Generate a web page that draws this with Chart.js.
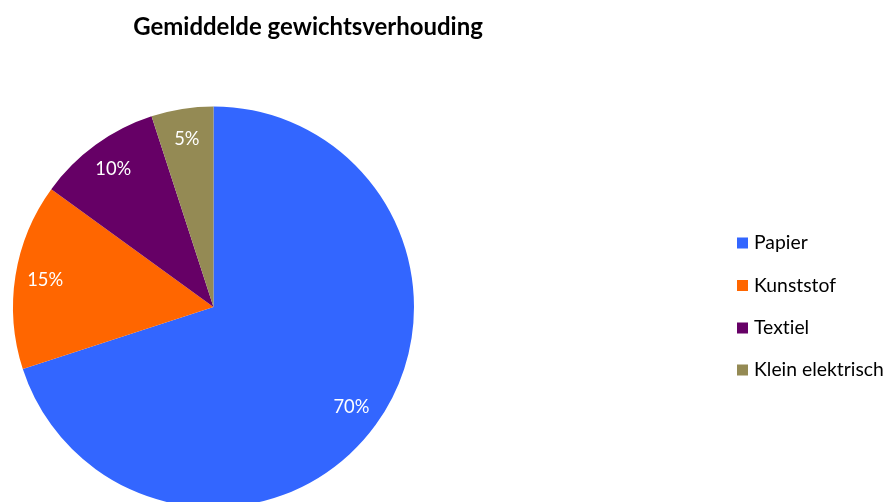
<!DOCTYPE html>
<html>
<head>
<meta charset="utf-8">
<script src="https://cdn.jsdelivr.net/npm/chart.js@4"></script>
<style>
html,body{margin:0;padding:0;background:#fff;overflow:hidden;}
#wrap{width:889px;height:502px;overflow:hidden;}
canvas{display:block;}
</style>
</head>
<body>
<div id="wrap"><canvas id="c" width="889" height="508" style="width:889px;height:508px"></canvas></div>
<script>
const chartTitle = "Gemiddelde gewichtsverhouding";
const categories = ["Papier", "Kunststof", "Textiel", "Klein elektrisch"];
const values = [70, 15, 10, 5];
const colors = ["#3366FF", "#FF6600", "#660066", "#948A54"];

const FONT = "Lato, 'Open Sans', sans-serif";

function fitFont(ctx, text, weight, target, base) {
  ctx.font = weight + " " + base + "px " + FONT;
  const w = ctx.measureText(text).width;
  return base * target / w;
}

const decorPlugin = {
  id: "decor",
  afterDatasetsDraw(chart) {
    const ctx = chart.ctx;
    const meta = chart.getDatasetMeta(0);
    const total = values.reduce((a, b) => a + b, 0);
    ctx.save();
    if ("letterSpacing" in ctx) ctx.letterSpacing = "0.01px";
    // data labels
    ctx.fillStyle = "#ffffff";
    ctx.textAlign = "center";
    ctx.textBaseline = "middle";
    const lblSize = fitFont(ctx, "70%", "normal", 36, 17);
    ctx.font = "normal " + lblSize + "px " + FONT;
    meta.data.forEach((arc, i) => {
      const p = arc.getProps(["x", "y", "startAngle", "endAngle", "outerRadius"], true);
      const mid = (p.startAngle + p.endAngle) / 2;
      const r = p.outerRadius * 0.85;
      const pct = Math.round(values[i] / total * 100) + "%";
      ctx.fillText(pct, p.x + Math.cos(mid) * r, p.y + Math.sin(mid) * r);
    });
    // title
    const tSize = fitFont(ctx, chartTitle, "bold", 350, 19);
    ctx.font = "bold " + tSize + "px " + FONT;
    ctx.fillStyle = "#000000";
    ctx.textAlign = "center";
    ctx.textBaseline = "middle";
    ctx.fillText(chartTitle, 308, 27);
    // legend
    const legSize = fitFont(ctx, categories[3], "normal", 130, 17);
    ctx.font = "normal " + legSize + "px " + FONT;
    ctx.textAlign = "left";
    const rowY = [243, 285.5, 328, 370];
    categories.forEach((cat, i) => {
      ctx.fillStyle = colors[i];
      ctx.fillRect(737, rowY[i] - 5.5, 11, 11);
      ctx.fillStyle = "#000000";
      ctx.fillText(cat, 754, rowY[i]);
    });
    ctx.restore();
  }
};

new Chart(document.getElementById("c"), {
  type: "pie",
  data: {
    labels: categories,
    datasets: [{
      data: values,
      backgroundColor: colors,
      borderWidth: 0
    }]
  },
  options: {
    responsive: false,
    animation: false,
    devicePixelRatio: 1,
    layout: { padding: { left: 13, top: 106, right: 475, bottom: 0 } },
    plugins: {
      legend: { display: false },
      title: { display: false },
      tooltip: { enabled: false }
    }
  },
  plugins: [decorPlugin]
});
</script>
</body>
</html>
